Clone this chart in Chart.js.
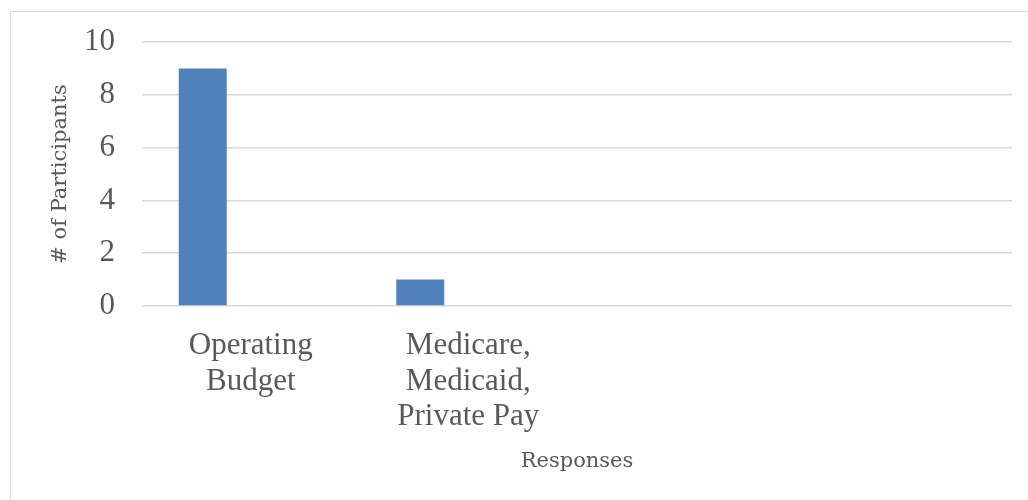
<!DOCTYPE html>
<html lang="en">
<head>
  <meta charset="UTF-8" />
  <title>Funding Sources</title>
  <script src="https://cdn.jsdelivr.net/npm/chart.js"></script>
  <style>
    body {
      margin: 0;
      background: #fff;
      overflow: hidden;
    }

    .frame {
      position: absolute;
      left: 10px;
      top: 11px;
      width: 1040px;
      height: 520px;
      border: 1px solid #d9d9d9;
    }

    .chart-box {
      position: absolute;
      left: 0;
      top: 0;
      width: 1028px;
      height: 500px;
    }
  </style>
</head>
<body>

  <div class="frame"></div>
  <div class="chart-box"><canvas id="fundingChart"></canvas></div>

  <script>
    const categories = [
      ['Operating', 'Budget'],
      ['Medicare,', 'Medicaid,', 'Private Pay'],
      '',
      ''
    ];
    const series1 = [9, 1, 0, 0];
    const series2 = [0, 0, 0, 0];
    const series3 = [0, 0, 0, 0];
    const yTicks = [0, 2, 4, 6, 8, 10];

    const textColor = '#595959';
    const gridColor = '#d9d9d9';

    new Chart(document.getElementById('fundingChart'), {
      type: 'bar',
      data: {
        labels: categories,
        datasets: [
          { label: 'Series 1', data: series1, backgroundColor: '#4f81bd' },
          { label: 'Series 2', data: series2, backgroundColor: '#c0504d' },
          { label: 'Series 3', data: series3, backgroundColor: '#9bbb59' }
        ]
      },
      options: {
        responsive: true,
        maintainAspectRatio: false,
        animation: false,
        categoryPercentage: 0.662,
        barPercentage: 1,
        layout: { padding: { left: 40, right: 16, top: 42, bottom: 20 } },
        plugins: {
          legend: { display: false },
          tooltip: { enabled: false }
        },
        scales: {
          x: {
            grid: { display: false, drawTicks: false },
            border: { display: false },
            ticks: {
              color: textColor,
              padding: 22,
              maxRotation: 0,
              autoSkip: false,
              font: { family: 'Liberation Serif', size: 31, lineHeight: 1.15 }
            },
            title: {
              display: true,
              text: 'Responses',
              color: textColor,
              padding: { top: 0, bottom: 6 },
              font: { family: 'DejaVu Serif', size: 21 }
            },
            afterFit: (scale) => {
              scale.height = 174;
              scale.paddingTop = 0;
            }
          },
          y: {
            min: 0,
            max: 10,
            afterBuildTicks: (scale) => {
              scale.ticks = yTicks.map(v => ({ value: v }));
            },
            grid: { color: gridColor, lineWidth: 1.5, drawTicks: false },
            border: { display: false },
            ticks: {
              color: textColor,
              padding: 27,
              font: { family: 'Liberation Serif', size: 31 }
            },
            title: {
              display: true,
              text: '# of Participants',
              color: textColor,
              padding: { top: 8, bottom: 0 },
              font: { family: 'DejaVu Serif', size: 21 }
            },
            afterFit: (scale) => {
              scale.width = 102;
              scale.paddingTop = 0;
            }
          }
        }
      }
    });
  </script>
</body>
</html>
